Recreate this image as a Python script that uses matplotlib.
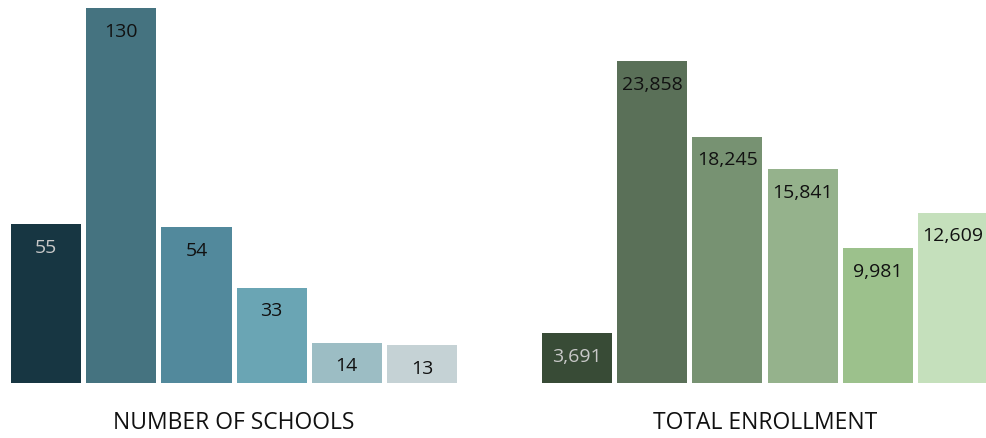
import matplotlib.pyplot as plt

plt.rcParams['font.family'] = ['Open Sans', 'DejaVu Sans']

# data
schools = [55, 130, 54, 33, 14, 13]
enrollment = [3691, 23858, 18245, 15841, 9981, 12609]
school_colors = ['#173642', '#457380', '#52899c', '#6aa5b4', '#9cbdc4', '#c5d2d5']
enroll_colors = ['#384b36', '#5a7058', '#779272', '#95b28c', '#9cc18c', '#c5e0bc']
label_colors = ['#c8c8c8', '#111111', '#111111', '#111111', '#111111', '#111111']

fig = plt.figure(figsize=(9.86, 4.38), dpi=100)

panels = [
    (0.0112, schools, school_colors, 130, 'NUMBER OF SCHOOLS', '{:d}'),
    (0.5497, enrollment, enroll_colors, 27790, 'TOTAL ENROLLMENT', '{:,d}'),
]

for left, vals, cols, top, title, fmt in panels:
    ax = fig.add_axes([left, 0.1256, 0.4523, 0.856])
    xs = range(len(vals))
    bars = ax.bar(xs, vals, width=0.933, color=cols)
    for b, v, lc in zip(bars, vals, label_colors):
        ax.annotate(fmt.format(v), (b.get_x() + b.get_width() / 2, v),
                    xytext=(0, -17), textcoords='offset points',
                    ha='center', va='center', fontsize=14, color=lc)
    ax.set_xlim(-0.4667, 5.4667)
    ax.set_ylim(0, top)
    ax.axis('off')
    ax.text(0.5, -0.107, title, transform=ax.transAxes, ha='center',
            va='center', fontsize=16.5, color='#111111')

fig.savefig('out.png', dpi=100)
